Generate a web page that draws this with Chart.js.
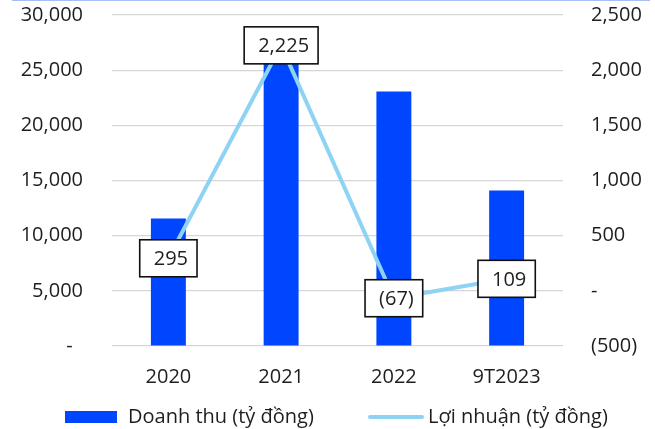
<!DOCTYPE html>
<html>
<head>
<meta charset="utf-8">
<script src="https://cdn.jsdelivr.net/npm/chart.js@4"></script>
<style>
  html, body { margin: 0; padding: 0; background: #fff; }
  .wrap { position: relative; width: 655px; height: 429px; }
  .wrap::before { content: ''; position: absolute; left: 12px; right: 5px; top: 0; height: 1px; background: #a8bcf6; }
  canvas { display: block; }
</style>
</head>
<body>
<div class="wrap"><canvas id="chart" width="655" height="429"></canvas></div>
<script>
// Doanh thu & lợi nhuận theo năm
const years = ['2020', '2021', '2022', '9T2023'];
const revenue = [11550, 28200, 23070, 14100];   // tỷ đồng
const profit = [295, 2225, -67, 109];            // tỷ đồng
const revenueTicks = [0, 5000, 10000, 15000, 20000, 25000, 30000];
const profitTicks = [-500, 0, 500, 1000, 1500, 2000, 2500];

const BLUE = '#0046ff';
const SKY = '#8fd3f4';
const TEXT = '#1e1e1e';
const FONT = "'Open Sans', 'Noto Sans', sans-serif";

const fmt = (v) => Math.abs(v).toLocaleString('en-US');
const fmtAcc = (v) => v < 0 ? '(' + fmt(v) + ')' : fmt(v);

// keep the value axes narrow and stop tick padding from eating vertical space
const fixAxis = (width) => (s) => {
  s.width = width;
  s.paddingTop = 12;
  s.paddingBottom = 12;
};

// boxed value labels on the profit line
const boxLabels = {
  id: 'boxLabels',
  afterDatasetsDraw(chart) {
    const { ctx } = chart;
    const meta = chart.getDatasetMeta(1);
    ctx.save();
    ctx.font = '20px ' + FONT;
    ctx.textBaseline = 'middle';
    meta.data.forEach((pt, i) => {
      const txt = fmtAcc(profit[i]);
      const w = ctx.measureText(txt).width + 23;
      const h = 37;
      const x = pt.x - w / 2, y = pt.y - h / 2;
      ctx.fillStyle = '#fff';
      ctx.fillRect(x, y, w, h);
      ctx.lineWidth = 1.6;
      ctx.strokeStyle = '#111';
      ctx.strokeRect(x, y, w, h);
      ctx.fillStyle = TEXT;
      ctx.textAlign = 'left';
      ctx.fillText(txt, x + 14, pt.y + 1);
    });
    ctx.restore();
  }
};

// legend row under the axis
const bottomLegend = {
  id: 'bottomLegend',
  afterDraw(chart) {
    const { ctx } = chart;
    const y = 417;
    ctx.save();
    ctx.font = '20px ' + FONT;
    ctx.textBaseline = 'middle';
    ctx.textAlign = 'left';

    ctx.fillStyle = BLUE;
    ctx.fillRect(65, y - 6, 52, 12);
    ctx.fillStyle = TEXT;
    ctx.fillText(chart.data.datasets[0].label, 128, y);

    ctx.strokeStyle = SKY;
    ctx.lineWidth = 4;
    ctx.lineCap = 'round';
    ctx.beginPath();
    ctx.moveTo(370, y);
    ctx.lineTo(422, y);
    ctx.stroke();
    ctx.fillText(chart.data.datasets[1].label, 428, y);
    ctx.restore();
  }
};

Chart.defaults.font.family = FONT;
Chart.defaults.font.size = 20;
Chart.defaults.color = TEXT;

new Chart(document.getElementById('chart'), {
  type: 'bar',
  data: {
    labels: years,
    datasets: [
      {
        type: 'bar',
        label: 'Doanh thu (tỷ đồng)',
        data: revenue,
        backgroundColor: BLUE,
        borderWidth: 0,
        barPercentage: 0.31,
        categoryPercentage: 1,
        yAxisID: 'y',
        order: 1,
      },
      {
        type: 'line',
        label: 'Lợi nhuận (tỷ đồng)',
        data: profit,
        borderColor: SKY,
        borderWidth: 4,
        pointRadius: 0,
        tension: 0,
        yAxisID: 'y1',
        order: 0,
      },
    ],
  },
  options: {
    responsive: false,
    animation: false,
    layout: { padding: { top: 15, bottom: 35, left: 0, right: 0 } },
    plugins: { legend: { display: false }, tooltip: { enabled: false } },
    scales: {
      x: {
        grid: { display: false, drawTicks: false },
        border: { display: false },
        ticks: { padding: 19 },
        afterFit: (s) => { s.height = 48; },
      },
      y: {
        position: 'left',
        min: 0, max: 30000,
        afterBuildTicks: (s) => { s.ticks = revenueTicks.map((v) => ({ value: v })); },
        grid: { color: '#d6d6d6', lineWidth: 1.2, drawTicks: false },
        border: { display: false },
        ticks: { padding: 29, callback: (v) => v === 0 ? '-  ' : fmt(v) },
        afterFit: fixAxis(112),
      },
      y1: {
        position: 'right',
        min: -500, max: 2500,
        afterBuildTicks: (s) => { s.ticks = profitTicks.map((v) => ({ value: v })); },
        grid: { display: false, drawTicks: false },
        border: { display: false },
        ticks: { padding: 28, callback: (v) => v === 0 ? '-' : fmtAcc(v) },
        afterFit: fixAxis(92),
      },
    },
  },
  plugins: [boxLabels, bottomLegend],
});
</script>
</body>
</html>
